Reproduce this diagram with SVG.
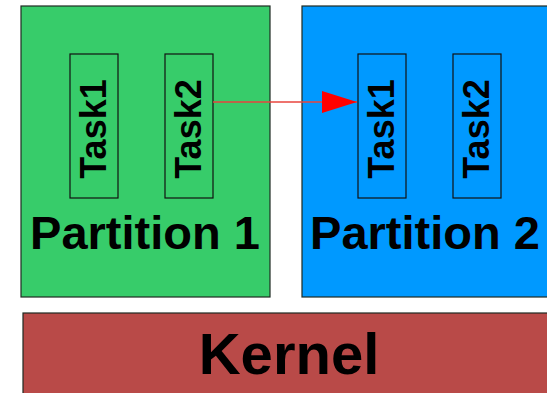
<svg xmlns="http://www.w3.org/2000/svg" width="547" height="393" viewBox="0 0 547 393">
  <style>
    .box { stroke: #1e2a22; stroke-width: 1.2; }
    .task { fill: none; stroke: #111; stroke-width: 1.2; }
    .label { font-family: "Liberation Sans", Arial, sans-serif; font-weight: bold; fill: #000; text-anchor: middle; }
    .tasklbl { font-size: 36px; }
    .partlbl { font-size: 47px; }
  </style>
  <defs>
    <marker id="arrowhead" markerWidth="36" markerHeight="24" refX="35" refY="11" orient="auto" markerUnits="userSpaceOnUse">
      <path d="M0,0 L35,11 L0,22 Z" fill="#ff0000"/>
    </marker>
  </defs>
  <rect width="547" height="393" fill="#ffffff"/>

  <g id="partition1">
    <rect class="box" x="21" y="6" width="249" height="291" fill="#37cc6a"/>
    <text class="label partlbl" x="145" y="249">Partition 1</text>
  </g>
  <g id="p1-task1">
    <rect class="task" x="70" y="54" width="48" height="144"/>
    <text class="label tasklbl" transform="translate(106,129) rotate(-90)">Task1</text>
  </g>
  <g id="p1-task2">
    <rect class="task" x="165" y="54" width="48" height="144"/>
    <text class="label tasklbl" transform="translate(201,129) rotate(-90)">Task2</text>
  </g>

  <g id="partition2">
    <rect class="box" x="302" y="6" width="250" height="291" fill="#0099ff"/>
    <text class="label partlbl" x="425" y="249">Partition 2</text>
  </g>
  <g id="p2-task1">
    <rect class="task" x="358" y="54" width="48" height="144"/>
    <text class="label tasklbl" transform="translate(394,129) rotate(-90)">Task1</text>
  </g>
  <g id="p2-task2">
    <rect class="task" x="453" y="54" width="48" height="144"/>
    <text class="label tasklbl" transform="translate(489,129) rotate(-90)">Task2</text>
  </g>

  <g id="kernel">
    <rect class="box" x="23" y="313" width="535" height="90" fill="#b94a48"/>
    <text class="label" x="289" y="374" font-size="58">Kernel</text>
  </g>

  <g id="connectors">
    <line x1="213" y1="102" x2="357" y2="102" stroke="#e8453e" stroke-width="1.3" marker-end="url(#arrowhead)"/>
  </g>
</svg>
